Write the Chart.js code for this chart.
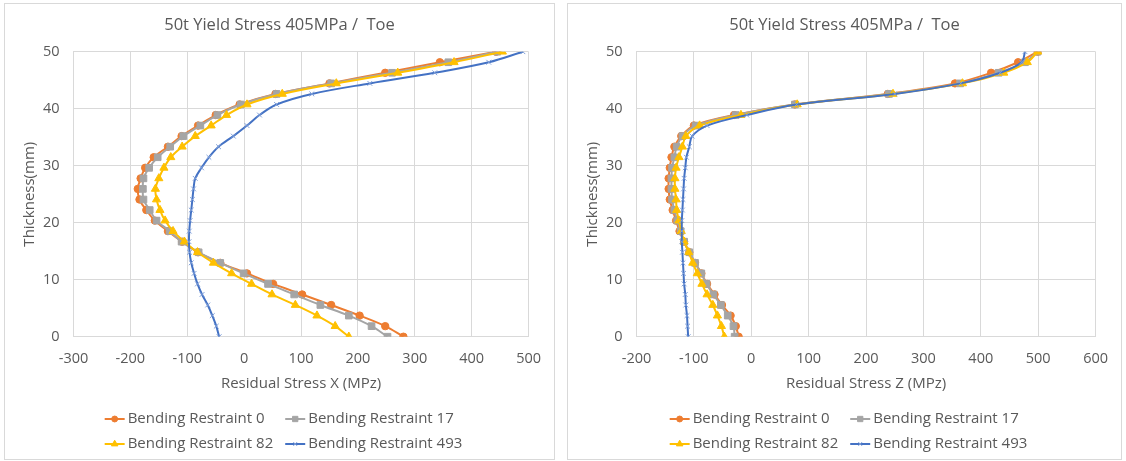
<!DOCTYPE html>
<html>
<head>
<meta charset="utf-8">
<script src="https://cdn.jsdelivr.net/npm/chart.js@4.4.0/dist/chart.umd.min.js"></script>
<style>
  html, body { margin: 0; padding: 0; background: #fff; }
  body { width: 1126px; height: 461px; position: relative; overflow: hidden; }
  .panel { position: absolute; border: 1px solid #d9d9d9; background: #fff; box-sizing: border-box; }
  .panel canvas { position: absolute; left: 0; top: 0; }
</style>
</head>
<body>
<div class="panel" style="left:4px;top:3px;width:551px;height:457px"><canvas id="chartX"></canvas></div>
<div class="panel" style="left:567px;top:3px;width:555px;height:457px"><canvas id="chartZ"></canvas></div>
<script>
// Through-thickness sampling positions (mm)
const thickness = [0, 1.85, 3.7, 5.56, 7.41, 9.26, 11.11, 12.96, 14.81, 16.67, 18.52, 20.37, 22.22, 24.07,
                   25.93, 27.78, 29.63, 31.48, 33.33, 35.19, 37.04, 38.89, 40.74, 42.59, 44.44, 46.3, 48.15, 50];

const seriesNames = ['Bending Restraint 0', 'Bending Restraint 17', 'Bending Restraint 82', 'Bending Restraint 493'];

// Residual stress X (MPa) per bending restraint
const stressX_BR0   = [280, 248, 203, 153, 102, 51, 5, -42, -81, -109, -134, -157, -172, -184,
                       -187, -182, -174, -159, -134, -110, -81, -50, -8, 55, 150, 248, 344, 443];
const stressX_BR17  = [252, 224, 184, 134, 88, 42, -1, -42, -80, -110, -131, -154, -166, -177,
                       -178, -177, -167, -152, -130, -107, -77, -47, -6, 57, 153, 260, 359, 445];
const stressX_BR82  = [184, 160, 128, 90, 49, 13, -22, -54, -82, -105, -125, -139, -148, -154,
                       -156, -150, -141, -129, -109, -86, -58, -31, 5, 67, 162, 270, 369, 454];
const stressX_BR493 = [-44, -49, -56, -64, -74, -82, -88, -93, -96, -97, -96.5, -95, -93, -91,
                       -89, -86, -75, -62, -45, -19, 5, 27, 57, 119, 221, 335, 430, 490];

// Residual stress Z (MPa) per bending restraint
const stressZ_BR0   = [-22, -27, -36, -51, -64, -77, -87, -98, -108, -117, -125, -131, -137, -142,
                       -144, -144, -142, -139, -134, -122, -100, -30, 76, 238, 355, 418, 465, 499];
const stressZ_BR17  = [-29, -31, -41, -53, -66, -78, -87, -98, -108, -117, -123, -129, -134, -138,
                       -139, -139, -138, -134, -130, -120, -97, -27, 76, 240, 364, 431, 477, 499];
const stressZ_BR82  = [-47, -52, -59, -67, -77, -86, -94, -102, -109, -117, -122, -126, -130, -131,
                       -133, -133, -131, -126, -120, -114, -90, -18, 80, 247, 368, 440, 481, 499];
const stressZ_BR493 = [-110, -111, -112, -114, -115, -117, -118, -119, -120, -121, -121, -121, -120, -119,
                       -118, -117, -115, -113, -108, -103, -77, -8, 79, 250, 365, 434, 471, 477];

// Axis ticks
const xTicksStressX = [-300, -200, -100, 0, 100, 200, 300, 400, 500];
const xTicksStressZ = [-200, -100, 0, 100, 200, 300, 400, 500, 600];
const yTicksThickness = [0, 10, 20, 30, 40, 50];

// Text
const chartTitle = '50t Yield Stress 405MPa /  Toe';
const xTitleStressX = 'Residual Stress X (MPz)';
const xTitleStressZ = 'Residual Stress Z (MPz)';
const yTitle = 'Thickness(mm)';

// Styling
const FONT = "'Open Sans', sans-serif";
const TEXT = '#595959';
const GRID = '#d9d9d9';
const lineColors   = ['#ED7D31', '#A5A5A5', '#FFC000', '#4472C4'];
const markerColors = ['#ED7D31', '#A5A5A5', '#FFC000', '#7F9FD9'];
const markerStyles = ['circle', 'rect', 'triangle', 'crossRot'];
const markerRadii  = [3.7, 4.7, 4.7, 3.4];

// Centre the chart title on the whole panel rather than on the padded box
const panelTitle = {
  id: 'panelTitle',
  afterLayout(chart) {
    const t = chart.titleBlock;
    if (t) { t.left = 0; t.right = chart.width; }
  }
};

// Two-column legend drawn under the axis title
const gridLegend = {
  id: 'gridLegend',
  afterDraw(chart, args, opts) {
    const ctx = chart.ctx;
    const ds = chart.data.datasets;
    ctx.save();
    ctx.font = opts.size + 'px ' + FONT;
    const widths = ds.map(d => ctx.measureText(d.label).width);
    const icon = 20, gap = 3, colGap = 12;
    const col0 = icon + gap + Math.max(widths[0], widths[2]) + colGap;
    const total = col0 + icon + gap + Math.max(widths[1], widths[3]);
    const x0 = chart.width / 2 - total / 2 + opts.shift;
    ds.forEach((d, i) => {
      const cx = x0 + (i % 2) * col0;
      const cy = opts.rows[Math.floor(i / 2)];
      ctx.strokeStyle = d.borderColor;
      ctx.lineWidth = 2;
      ctx.beginPath();
      ctx.moveTo(cx, cy);
      ctx.lineTo(cx + icon, cy);
      ctx.stroke();
      ctx.fillStyle = d.pointBackgroundColor;
      ctx.strokeStyle = d.pointBorderColor;
      ctx.lineWidth = 1;
      Chart.helpers.drawPoint(ctx, {pointStyle: d.pointStyle, radius: d.pointRadius * 0.8, borderWidth: 1, rotation: 0},
                              cx + icon / 2, cy);
      ctx.fillStyle = TEXT;
      ctx.textBaseline = 'middle';
      ctx.textAlign = 'left';
      ctx.fillText(d.label, cx + icon + gap, cy);
    });
    ctx.restore();
  }
};

function buildChart(canvasId, w, h, series, xTicks, xTitle, rightPad) {
  const cv = document.getElementById(canvasId);
  cv.width = w; cv.height = h;
  cv.style.width = w + 'px'; cv.style.height = h + 'px';

  const datasets = series.map((vals, i) => ({
    label: seriesNames[i],
    data: vals.map((v, k) => ({x: v, y: thickness[k]})),
    showLine: true,
    borderColor: lineColors[i],
    backgroundColor: markerColors[i],
    pointBackgroundColor: markerColors[i],
    pointBorderColor: markerColors[i],
    pointStyle: markerStyles[i],
    pointRadius: markerRadii[i],
    pointHoverRadius: markerRadii[i],
    pointBorderWidth: 1,
    borderWidth: 2,
    tension: 0.35,
    order: series.length - 1 - i
  }));

  const tickFont = {family: FONT, size: 14.5};
  const axisTitleFont = {family: FONT, size: 15, lineHeight: 1.2};
  return new Chart(cv, {
    type: 'scatter',
    data: {datasets},
    plugins: [panelTitle, gridLegend],
    options: {
      responsive: false,
      animation: false,
      devicePixelRatio: 1,
      layout: {padding: {left: 0, right: rightPad, top: 0, bottom: 66.4}},
      plugins: {
        legend: {display: false},
        tooltip: {enabled: false},
        title: {
          display: true, text: chartTitle, color: TEXT,
          font: {family: FONT, size: 16.5, weight: 'normal', lineHeight: 1.2},
          padding: {top: 11.1, bottom: 16.8}
        },
        gridLegend: {size: 15, rows: [415, 440], shift: 4}
      },
      scales: {
        x: {
          type: 'linear',
          min: xTicks[0], max: xTicks[xTicks.length - 1],
          ticks: {stepSize: xTicks[1] - xTicks[0], color: TEXT, font: tickFont, padding: 13, maxRotation: 0},
          grid: {color: GRID, lineWidth: 1, drawTicks: false},
          border: {color: GRID, width: 1},
          title: {display: true, text: xTitle, color: TEXT, font: axisTitleFont, padding: 0},
          afterFit: s => { s.height = 55.9; }
        },
        y: {
          type: 'linear',
          min: yTicksThickness[0], max: yTicksThickness[yTicksThickness.length - 1],
          ticks: {stepSize: yTicksThickness[1] - yTicksThickness[0], color: TEXT, font: tickFont, padding: 14},
          grid: {color: GRID, lineWidth: 1, drawTicks: false},
          border: {color: GRID, width: 1},
          title: {display: true, text: yTitle, color: TEXT, font: axisTitleFont, padding: {top: 16, bottom: 0}},
          afterFit: s => { s.width = 68.5; }
        }
      }
    }
  });
}

buildChart('chartX', 549, 455, [stressX_BR0, stressX_BR17, stressX_BR82, stressX_BR493],
           xTicksStressX, xTitleStressX, 17.3);
buildChart('chartZ', 553, 455, [stressZ_BR0, stressZ_BR17, stressZ_BR82, stressZ_BR493],
           xTicksStressZ, xTitleStressZ, 20.6);
</script>
</body>
</html>
